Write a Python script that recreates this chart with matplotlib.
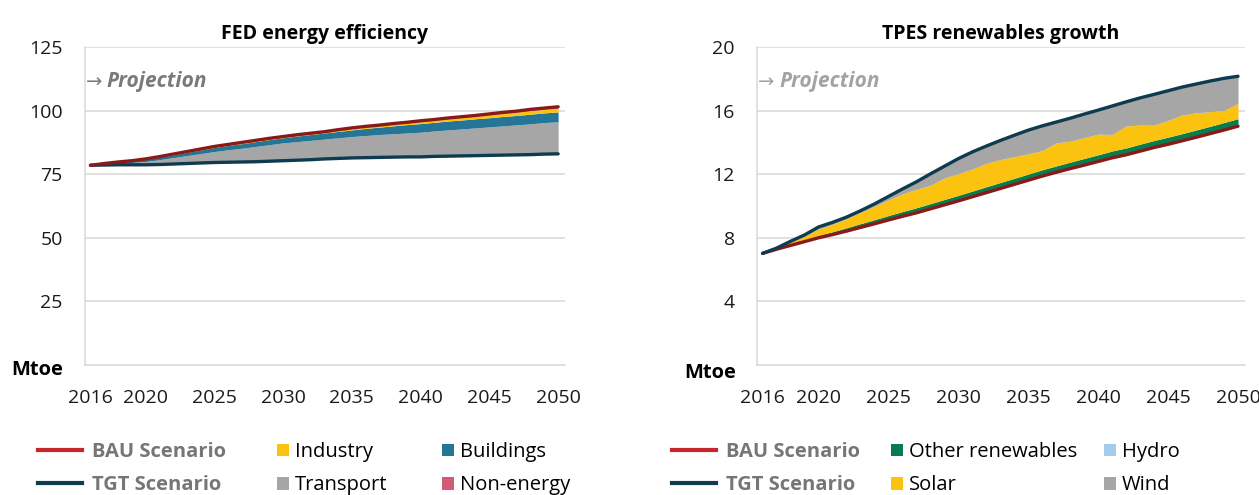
import matplotlib
matplotlib.use("Agg")
import matplotlib.pyplot as plt
import numpy as np
from matplotlib.lines import Line2D
from matplotlib.patches import Patch

plt.rcParams["font.family"] = ["Open Sans", "DejaVu Sans"]

years = list(range(2016, 2051))
xticks = [2016, 2020, 2025, 2030, 2035, 2040, 2045, 2050]

# FED energy efficiency (Mtoe)
fed_bau = [78.5, 79.2, 79.8, 80.3, 81.0, 81.9, 82.9, 83.9, 84.9, 85.9,
           86.7, 87.5, 88.3, 89.1, 89.8, 90.5, 91.1, 91.7, 92.5, 93.2,
           93.8, 94.3, 94.9, 95.4, 96.0, 96.5, 97.1, 97.6, 98.1, 98.7,
           99.3, 99.8, 100.5, 101.0, 101.5]
fed_tgt = [78.5, 78.6, 78.7, 78.7, 78.7, 78.8, 79.0, 79.2, 79.4, 79.6,
           79.7, 79.8, 79.9, 80.1, 80.3, 80.5, 80.7, 81.0, 81.2, 81.4,
           81.5, 81.6, 81.7, 81.8, 81.8, 82.0, 82.1, 82.2, 82.3, 82.4,
           82.5, 82.6, 82.7, 82.9, 83.0]
transport = [0.0, 0.3, 0.6, 0.9, 1.3, 1.9, 2.5, 3.1, 3.7, 4.3,
             4.9, 5.4, 6.0, 6.5, 7.0, 7.3, 7.6, 7.8, 8.1, 8.4,
             8.7, 9.0, 9.2, 9.4, 9.7, 10.0, 10.3, 10.6, 10.9, 11.2,
             11.5, 11.8, 12.1, 12.4, 12.6]
buildings = [0.0, 0.2, 0.4, 0.6, 0.8, 1.0, 1.1, 1.3, 1.4, 1.6,
             1.7, 1.8, 1.9, 2.0, 2.0, 2.2, 2.3, 2.4, 2.5, 2.6,
             2.8, 2.9, 3.1, 3.3, 3.4, 3.4, 3.5, 3.5, 3.6, 3.6,
             3.7, 3.7, 3.8, 3.8, 3.9]
industry = [0.0, 0.05, 0.05, 0.05, 0.1, 0.1, 0.15, 0.15, 0.2, 0.25,
            0.25, 0.3, 0.3, 0.3, 0.35, 0.35, 0.35, 0.4, 0.5, 0.55,
            0.55, 0.6, 0.65, 0.7, 0.8, 0.8, 0.9, 1.0, 1.0, 1.1,
            1.2, 1.3, 1.4, 1.4, 1.5]
non_energy = [0.0, 0.05, 0.05, 0.05, 0.1, 0.1, 0.15, 0.15, 0.2, 0.15,
              0.15, 0.2, 0.2, 0.2, 0.15, 0.15, 0.15, 0.1, 0.2, 0.25,
              0.25, 0.2, 0.25, 0.2, 0.3, 0.3, 0.3, 0.3, 0.3, 0.4,
              0.4, 0.4, 0.5, 0.5, 0.5]

# TPES renewables growth (Mtoe)
tpes_bau = [7.02, 7.28, 7.52, 7.76, 8.00, 8.20, 8.42, 8.65, 8.88, 9.12,
            9.35, 9.57, 9.82, 10.07, 10.32, 10.58, 10.84, 11.10, 11.36, 11.62,
            11.88, 12.12, 12.35, 12.57, 12.80, 13.03, 13.22, 13.45, 13.68, 13.88,
            14.10, 14.32, 14.55, 14.78, 15.02]
tpes_tgt = [7.02, 7.35, 7.78, 8.18, 8.68, 8.97, 9.30, 9.70, 10.13, 10.60,
            11.07, 11.52, 12.02, 12.50, 12.98, 13.40, 13.77, 14.12, 14.45, 14.77,
            15.04, 15.28, 15.52, 15.78, 16.03, 16.29, 16.55, 16.80, 17.02, 17.25,
            17.48, 17.67, 17.86, 18.03, 18.16]
other_ren = [0.00, 0.03, 0.07, 0.11, 0.15, 0.18, 0.21, 0.24, 0.26, 0.28,
             0.30, 0.32, 0.33, 0.34, 0.35, 0.36, 0.37, 0.38, 0.38, 0.39,
             0.40, 0.40, 0.41, 0.42, 0.42, 0.43, 0.43, 0.44, 0.44, 0.45,
             0.45, 0.46, 0.46, 0.47, 0.47]
hydro = [0.0] * 35
solar = [0.00, 0.02, 0.13, 0.23, 0.40, 0.47, 0.57, 0.71, 0.84, 0.98,
         1.11, 1.16, 1.15, 1.35, 1.36, 1.39, 1.47, 1.44, 1.36, 1.27,
         1.20, 1.45, 1.31, 1.31, 1.30, 1.04, 1.38, 1.20, 0.96, 1.06,
         1.17, 1.08, 0.92, 0.76, 0.95]
wind = [0.00, 0.02, 0.06, 0.08, 0.13, 0.12, 0.10, 0.10, 0.15, 0.22,
        0.31, 0.47, 0.72, 0.74, 0.95, 1.07, 1.09, 1.20, 1.35, 1.49,
        1.56, 1.31, 1.45, 1.48, 1.51, 1.79, 1.52, 1.71, 1.94, 1.86,
        1.76, 1.81, 1.93, 2.02, 1.72]

RED = "#8a1a1a"
RED_LEG = "#c8262c"
NAVY = "#0f3b50"
YELLOW = "#fbc20f"
BLUE = "#247596"
GREY = "#a6a6a6"
PINK = "#d05c76"
GREEN = "#077d4f"
LBLUE = "#a3cbea"
GRID = "#d9d9d9"

W, H = 1259, 495


def rect(x0, x1, ytop, ybot):
    return [x0 / W, 1 - ybot / H, (x1 - x0) / W, (ybot - ytop) / H]


def style_axes(ax, ymax, ystep, title, proj_color):
    ax.set_xlim(2015.6, 2050.5)
    ax.set_ylim(0, ymax)
    ax.set_yticks(np.arange(ystep, ymax + ystep / 2, ystep))
    ax.set_xticks(xticks)
    ax.tick_params(axis="both", length=0, labelsize=14, colors="#1a1a1a")
    ax.tick_params(axis="x", pad=17)
    ax.tick_params(axis="y", pad=16)
    ax.grid(axis="y", color=GRID, lw=1.1)
    ax.set_axisbelow(True)
    for s in ["top", "right"]:
        ax.spines[s].set_visible(False)
    for s in ["left", "bottom"]:
        ax.spines[s].set_color(GRID)
        ax.spines[s].set_linewidth(1.1)
    ax.set_title(title, fontsize=14, fontweight="bold", pad=6)
    ax.text(0.002, 0.89, "\u2192", transform=ax.transAxes, fontsize=14,
            color=proj_color, va="center", ha="left", family="DejaVu Sans")
    ax.text(0.045, 0.89, "Projection", transform=ax.transAxes, fontsize=15,
            color=proj_color, va="center", ha="left", fontweight="bold",
            style="italic")


def stack(ax, base, layers, colors):
    bottom = np.array(base, dtype=float)
    for vals, c in zip(layers, colors):
        top = bottom + np.array(vals)
        ax.fill_between(years, bottom, top, color=c, lw=0)
        bottom = top


def legends(x_line, x_patch, labels, colors, colsp):
    y = 1 - 442 / H
    lh = [Line2D([], [], color=RED_LEG, lw=3), Line2D([], [], color=NAVY, lw=3)]
    leg = fig.legend(lh, ["BAU Scenario", "TGT Scenario"], loc="upper left",
                     bbox_to_anchor=(x_line / W, y), frameon=False, fontsize=14.5,
                     handlelength=2.2, handletextpad=0.5, labelspacing=0.66,
                     borderpad=0, borderaxespad=0)
    for t in leg.get_texts():
        t.set_fontweight("bold")
        t.set_color("#767676")
    ph = [Patch(facecolor=c, edgecolor="none") for c in colors]
    fig.legend(ph, labels, loc="upper left", bbox_to_anchor=(x_patch / W, y),
               ncol=2, frameon=False, fontsize=14.5, handlelength=0.6,
               handleheight=0.6, handletextpad=0.3, labelspacing=0.66,
               columnspacing=colsp, borderpad=0, borderaxespad=0)


fig = plt.figure(figsize=(12.59, 4.95), dpi=100)
fig.patch.set_facecolor("white")

ax1 = fig.add_axes(rect(85, 565, 47, 365))
stack(ax1, fed_tgt, [transport, buildings, industry, non_energy],
      [GREY, BLUE, YELLOW, PINK])
ax1.plot(years, fed_tgt, color=NAVY, lw=2.4, solid_capstyle="round")
ax1.plot(years, fed_bau, color=RED, lw=2.4, solid_capstyle="round")
style_axes(ax1, 125, 25, "FED energy efficiency", "#7a7a7a")

ax2 = fig.add_axes(rect(757, 1245, 47, 365))
stack(ax2, tpes_bau, [other_ren, hydro, solar, wind],
      [GREEN, LBLUE, YELLOW, GREY])
ax2.plot(years, tpes_bau, color=RED, lw=2.4, solid_capstyle="round")
ax2.plot(years, tpes_tgt, color=NAVY, lw=2.4, solid_capstyle="round")
style_axes(ax2, 20, 4, "TPES renewables growth", "#a3a3a3")

fig.text(37 / W, 1 - 370 / H, "Mtoe", fontsize=14.5, fontweight="bold",
         ha="center", va="center")
fig.text(710 / W, 1 - 373 / H, "Mtoe", fontsize=14.5, fontweight="bold",
         ha="center", va="center")

legends(38, 277, ["Industry", "Transport", "Buildings", "Non-energy"],
        [YELLOW, GREY, BLUE, PINK], 2.7)
legends(672, 891, ["Other renewables", "Solar", "Hydro", "Wind"],
        [GREEN, YELLOW, LBLUE, GREY], 1.3)

fig.savefig("out.png", dpi=100, facecolor="white")
